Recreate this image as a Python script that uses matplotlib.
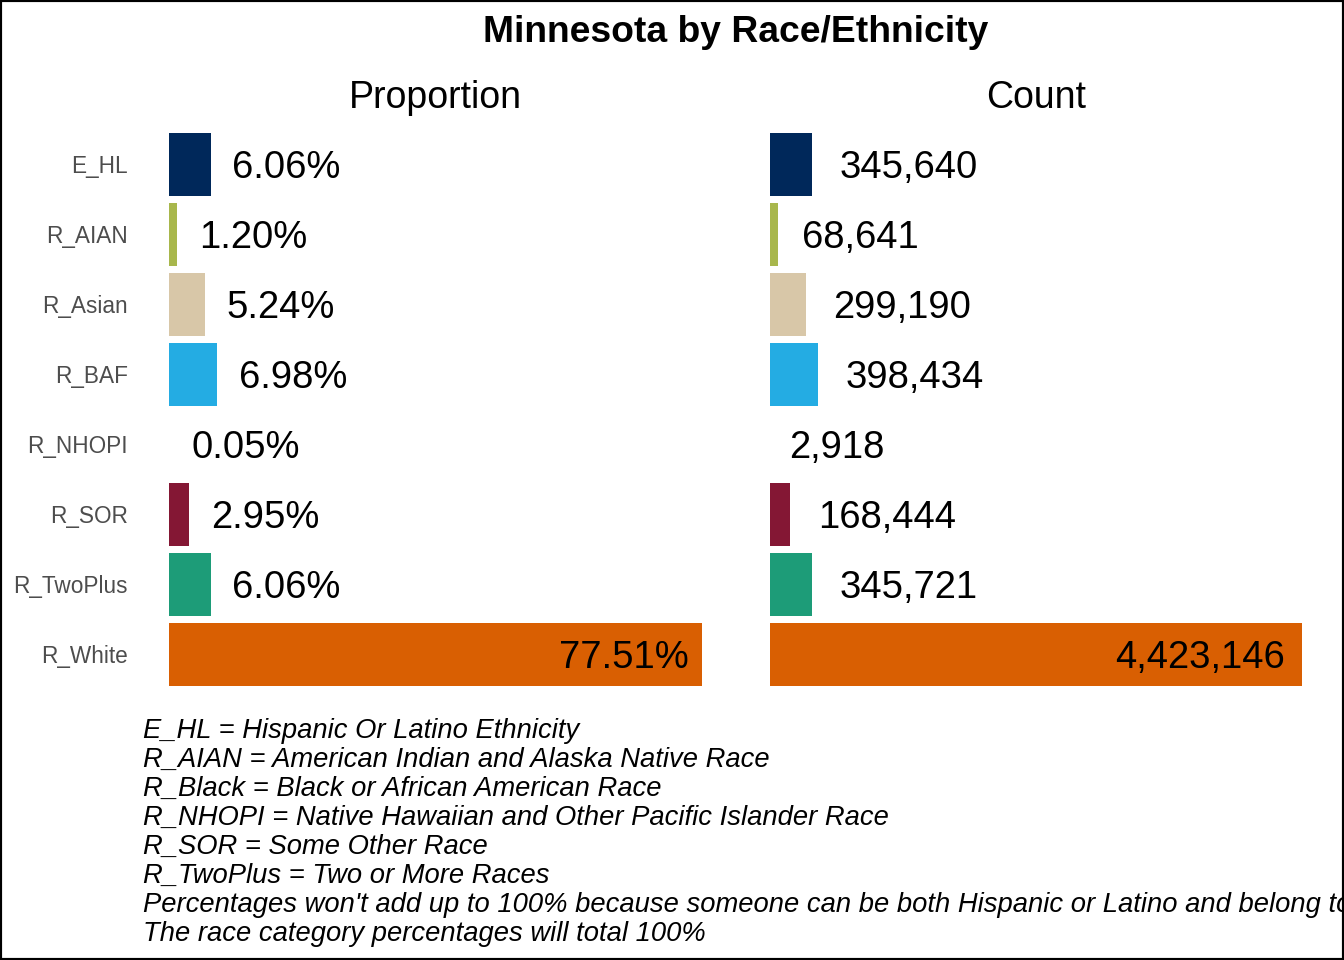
import matplotlib
matplotlib.use("Agg")
import matplotlib.pyplot as plt
from matplotlib.patches import Rectangle

# ---------------------------
# Data
# ---------------------------
groups = ["E_HL", "R_AIAN", "R_Asian", "R_BAF", "R_NHOPI", "R_SOR", "R_TwoPlus", "R_White"]
proportion = [6.06, 1.20, 5.24, 6.98, 0.05, 2.95, 6.06, 77.51]
counts = [345640, 68641, 299190, 398434, 2918, 168444, 345721, 4423146]
colors = ["#00285A", "#A8B74C", "#D8C7A8", "#24ACE3", "#9BC9E0", "#841734", "#1D9C78", "#D95F02"]

notes = [
    "E_HL = Hispanic Or Latino Ethnicity",
    "R_AIAN = American Indian and Alaska Native Race",
    "R_Black = Black or African American Race",
    "R_NHOPI = Native Hawaiian and Other Pacific Islander Race",
    "R_SOR = Some Other Race",
    "R_TwoPlus = Two or More Races",
    "Percentages won't add up to 100% because someone can be both Hispanic or Latino and belong to a race category",
    "The race category percentages will total 100%",
]

plt.rcParams["font.family"] = ["Liberation Sans", "DejaVu Sans"]

W, H = 1344, 960
fig = plt.figure(figsize=(W / 100, H / 100), dpi=100)

# axes placement in pixels (rows centred at 164 .. 654)
step = (654 - 164) / 7
row_top = 164 - 0.6 * step
row_bot = 654 + 0.6 * step


def px_axes(x0, x1):
    return fig.add_axes([x0 / W, 1 - row_bot / H, (x1 - x0) / W, (row_bot - row_top) / H])


ax1 = px_axes(169, 702)
ax2 = px_axes(770, 1302)

ypos = list(range(len(groups)))
big = len(groups) - 1  # largest bar gets label inside

labels = []
for ax, vals, fmt, title in [
    (ax1, proportion, lambda v: f"{v:.2f}%", "Proportion"),
    (ax2, counts, lambda v: f"{v:,}", "Count"),
]:
    ax.barh(ypos, vals, height=0.9, color=colors)
    ax.set_xlim(0, max(vals))
    ax.set_ylim(len(groups) - 0.4, -0.6)
    for s in ax.spines.values():
        s.set_visible(False)
    ax.set_xticks([])
    ax.set_yticks(ypos)
    ax.tick_params(axis="y", length=0, pad=41 * 0.72)
    if ax is ax1:
        ax.set_yticklabels(groups, fontsize=16.3, color="#4D4D4D")
    else:
        ax.set_yticklabels([])
    ax.set_title(title, fontsize=27, pad=10)
    for i, v in enumerate(vals):
        inside = i == big
        t = ax.annotate(fmt(v), (v, i), xytext=(0, 0), textcoords="offset pixels",
                        ha="right" if inside else "left", va="center",
                        fontsize=27.5, color="black", annotation_clip=False)
        labels.append((t, inside))

# shift labels by a fraction of their own width (like hjust)
fig.canvas.draw()
r = fig.canvas.get_renderer()
for t, inside in labels:
    w = t.get_window_extent(r).width
    t.xyann = (-0.1 * w, -4) if inside else (0.2 * w, -4)

fig.text(736 / W, 1 - 32 / H, "Minnesota by Race/Ethnicity", ha="center", va="center",
         fontsize=26.8, fontweight="bold")

y0 = 731
for k, line in enumerate(notes):
    fig.text(143 / W, 1 - (y0 + 29 * k) / H, line, ha="left", va="center",
             fontsize=19.7, style="italic")

fig.patches.append(Rectangle((0, 0), 1, 1, transform=fig.transFigure, fill=False,
                             edgecolor="black", linewidth=3))

fig.savefig("out.png", dpi=100)
